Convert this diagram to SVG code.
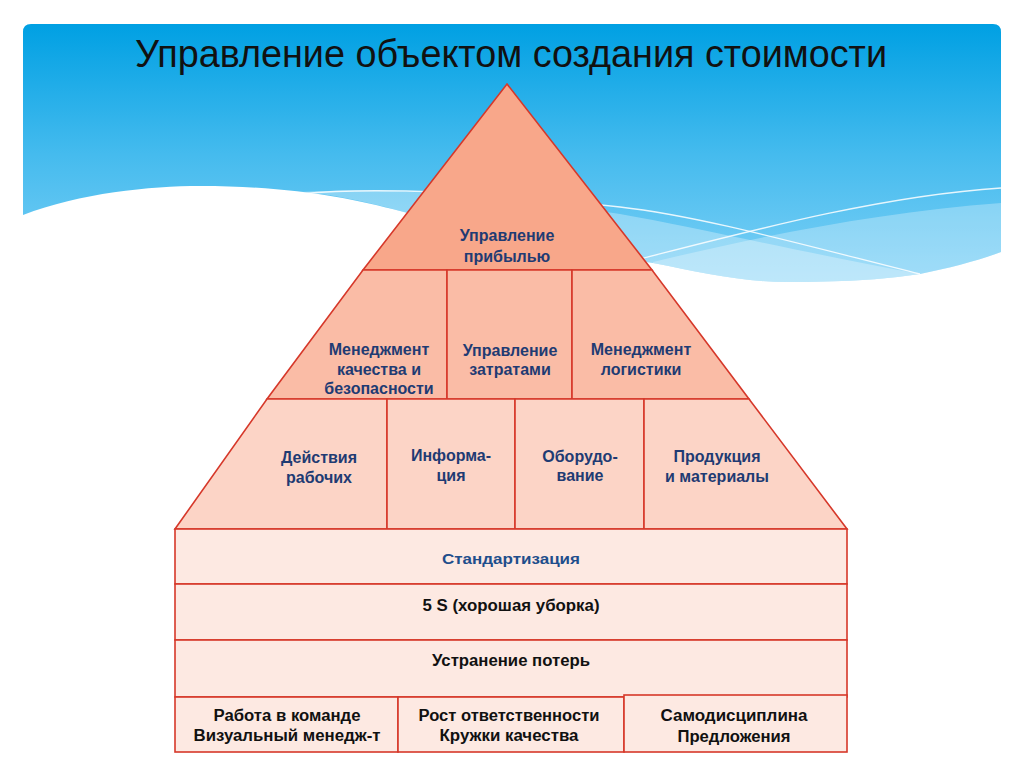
<svg xmlns="http://www.w3.org/2000/svg" width="1024" height="767" viewBox="0 0 1024 767">
<defs>
<linearGradient id="sky" x1="0" y1="24" x2="0" y2="285" gradientUnits="userSpaceOnUse">
<stop offset="0" stop-color="#00a0e3"/>
<stop offset="0.5" stop-color="#45bbee"/>
<stop offset="1" stop-color="#7fd1f6"/>
</linearGradient>
<style>
.cell{stroke:#d6382a;stroke-width:1.6;stroke-linejoin:miter}
.l1{fill:#f8a78a}
.l2{fill:#fabca6}
.l3{fill:#fcd4c6}
.l4{fill:#fde9e2}
.pt{font-family:"Liberation Sans",Arial,sans-serif;font-weight:bold;font-size:16px;fill:#1f3b73;text-anchor:middle}
.bt{font-family:"Liberation Sans",Arial,sans-serif;font-weight:bold;font-size:16px;fill:#111111;text-anchor:middle}
.st{font-family:"Liberation Sans",Arial,sans-serif;font-weight:bold;font-size:15.5px;fill:#1f4e8c;text-anchor:middle}
.wl{fill:none;stroke:#ffffff;stroke-width:1.3;stroke-opacity:0.85}
</style>
</defs>
<rect width="1024" height="767" fill="#ffffff"/>
<g id="background">
<path d="M23,32 Q23,24 31,24 L993,24 Q1001,24 1001,32 L1001,252 C980,260 950,268 920,274 C880,280 840,282 787,282 C740,282 700,272 653,263 C560,250 480,232 400,211 C350,198 290,186 200,186 C150,186 80,193 23,215 Z" fill="url(#sky)"/>
<path d="M300,192 C400,186 520,198 620,214 C700,228 800,252 920,274 C880,280 840,282 787,282 C740,282 700,272 653,263 C560,250 480,232 400,211 C360,200 330,194 300,192 Z" fill="#ffffff" fill-opacity="0.3"/>
<path d="M653,262 C760,236 880,212 1001,203 L1001,252 C980,260 950,268 920,274 C880,280 840,282 787,282 C740,282 700,272 653,263 Z" fill="#ffffff" fill-opacity="0.28"/>
<path class="wl" d="M300,194 C390,185 520,196 620,207 C700,216 800,244 920,274"/>
<path class="wl" d="M640,259 C750,231 880,196 1001,188"/>
<text x="511" y="67" font-family="'Liberation Sans',Arial,sans-serif" font-size="38" fill="#111111" text-anchor="middle" textLength="752" lengthAdjust="spacingAndGlyphs">Управление объектом создания стоимости</text>
</g>
<g id="n-profit">
<polygon class="cell l1" points="507,84 652,270 363,270"/>
<text class="pt" x="507" y="241">Управление</text>
<text class="pt" x="507" y="262">прибылью</text>
</g>
<g id="n-quality">
<polygon class="cell l2" points="363,270 447,270 447,399 267,399"/>
<text class="pt" x="379" y="355">Менеджмент</text>
<text class="pt" x="379" y="375">качества и</text>
<text class="pt" x="379" y="394">безопасности</text>
</g>
<g id="n-costs">
<polygon class="cell l2" points="447,270 572,270 572,399 447,399"/>
<text class="pt" x="510" y="356">Управление</text>
<text class="pt" x="510" y="375">затратами</text>
</g>
<g id="n-logistics">
<polygon class="cell l2" points="572,270 652,270 749,399 572,399"/>
<text class="pt" x="641" y="355">Менеджмент</text>
<text class="pt" x="641" y="375">логистики</text>
</g>
<g id="n-workers">
<polygon class="cell l3" points="267,399 387,399 387,529 175,529"/>
<text class="pt" x="319" y="463">Действия</text>
<text class="pt" x="319" y="483">рабочих</text>
</g>
<g id="n-info">
<polygon class="cell l3" points="387,399 515,399 515,529 387,529"/>
<text class="pt" x="451" y="461">Информа-</text>
<text class="pt" x="451" y="481">ция</text>
</g>
<g id="n-equipment">
<polygon class="cell l3" points="515,399 644,399 644,529 515,529"/>
<text class="pt" x="580" y="462">Оборудо-</text>
<text class="pt" x="580" y="481">вание</text>
</g>
<g id="n-products">
<polygon class="cell l3" points="644,399 749,399 847,529 644,529"/>
<text class="pt" x="717" y="462">Продукция</text>
<text class="pt" x="717" y="482">и материалы</text>
</g>
<g id="n-standard">
<rect class="cell l4" x="175" y="529" width="672" height="55"/>
<text class="st" x="511" y="564" textLength="138" lengthAdjust="spacingAndGlyphs">Стандартизация</text>
</g>
<g id="n-5s">
<rect class="cell l4" x="175" y="584" width="672" height="56"/>
<text class="bt" x="511" y="611" textLength="177" lengthAdjust="spacingAndGlyphs">5 S (хорошая уборка)</text>
</g>
<g id="n-waste">
<rect class="cell l4" x="175" y="640" width="672" height="57"/>
<text class="bt" x="511" y="666" textLength="158" lengthAdjust="spacingAndGlyphs">Устранение потерь</text>
</g>
<g id="n-team">
<rect class="cell l4" x="175" y="697" width="223" height="55"/>
<text class="bt" x="287" y="721" textLength="147" lengthAdjust="spacingAndGlyphs">Работа в команде</text>
<text class="bt" x="287" y="741" textLength="187" lengthAdjust="spacingAndGlyphs">Визуальный менедж-т</text>
</g>
<g id="n-responsibility">
<rect class="cell l4" x="398" y="697" width="226" height="55"/>
<text class="bt" x="509" y="721" textLength="181" lengthAdjust="spacingAndGlyphs">Рост ответственности</text>
<text class="bt" x="509" y="741" textLength="139" lengthAdjust="spacingAndGlyphs">Кружки качества</text>
</g>
<g id="n-discipline">
<rect class="cell l4" x="624" y="695" width="223" height="57"/>
<text class="bt" x="734" y="721" textLength="147" lengthAdjust="spacingAndGlyphs">Самодисциплина</text>
<text class="bt" x="734" y="742" textLength="113" lengthAdjust="spacingAndGlyphs">Предложения</text>
</g>
</svg>
